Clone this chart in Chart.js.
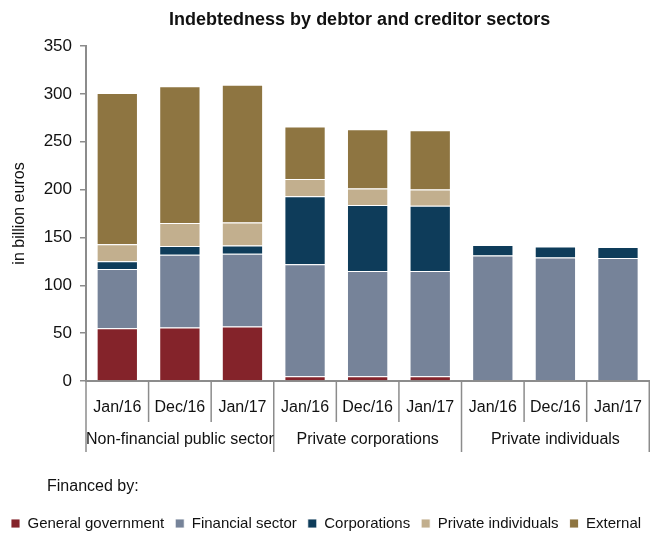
<!DOCTYPE html>
<html>
<head>
<meta charset="utf-8">
<script src="https://cdn.jsdelivr.net/npm/chart.js@4/dist/chart.umd.min.js"></script>
<style>
  body { margin: 0; background: #fff; }
</style>
</head>
<body>
<canvas id="chart" width="659" height="533"></canvas>
<script>
const dates = ['Jan/16', 'Dec/16', 'Jan/17', 'Jan/16', 'Dec/16', 'Jan/17', 'Jan/16', 'Dec/16', 'Jan/17'];
const groups = ['Non-financial public sector', 'Private corporations', 'Private individuals'];
const yTicks = [0, 50, 100, 150, 200, 250, 300, 350];

// billion euros
const generalGov   = [55, 56, 57, 5, 5, 5, null, null, null];
const financialSec = [62, 76, 76, 117, 110, 110, 131, 129, 128.5];
const corporations = [8, 9, 8.5, 71, 69, 68, 11, 11.5, 11.5];
const privateInd   = [18, 24, 24, 18, 17, 17, null, null, null];
const external     = [158, 143, 144, 55, 62, 62, null, null, null];

const FONT = '"Liberation Sans", Arial, sans-serif';
const GRAY = '#8c8c8c';

function ds(label, data, color) {
    return {
        label: label,
        data: data,
        backgroundColor: color,
        borderColor: 'rgba(255,255,255,0.85)',
        borderWidth: 1,
        barPercentage: 0.66,
        categoryPercentage: 1
    };
}

// group labels, separators, title and the "Financed by:" line
const extras = {
    id: 'extras',
    afterDraw(chart) {
        const { ctx, chartArea, scales: { x } } = chart;
        const step = x.getPixelForValue(1) - x.getPixelForValue(0);
        const bottom = chartArea.bottom;
        ctx.save();
        ctx.strokeStyle = GRAY;
        ctx.lineWidth = 1.5;
        for (let i = 0; i <= dates.length; i++) {
            const bx = x.getPixelForValue(0) - step / 2 + i * step;
            const len = i % 3 === 0 ? 71 : 41;
            ctx.beginPath();
            ctx.moveTo(bx, bottom);
            ctx.lineTo(bx, bottom + len);
            ctx.stroke();
        }
        ctx.fillStyle = '#111';
        ctx.font = '16px ' + FONT;
        ctx.textAlign = 'center';
        ctx.textBaseline = 'middle';
        groups.forEach((g, k) => {
            ctx.fillText(g, x.getPixelForValue(k * 3 + 1), bottom + 59);
        });
        ctx.font = 'bold 18px ' + FONT;
        ctx.fillText('Indebtedness by debtor and creditor sectors', (chartArea.left + chartArea.right) / 2 - 8, 20);
        ctx.font = '16px ' + FONT;
        ctx.textAlign = 'left';
        ctx.fillText('Financed by:', 47, 487);
        ctx.restore();
    }
};

new Chart(document.getElementById('chart'), {
    type: 'bar',
    data: {
        labels: dates,
        datasets: [
            ds('General government', generalGov, '#84232a'),
            ds('Financial sector', financialSec, '#768399'),
            ds('Corporations', corporations, '#0e3c5a'),
            ds('Private individuals', privateInd, '#c2af8e'),
            ds('External', external, '#8e7541')
        ]
    },
    options: {
        responsive: false,
        animation: false,
        layout: { padding: { top: 46, right: 0, left: 0, bottom: -8 } },
        plugins: {
            legend: {
                position: 'bottom',
                align: 'start',
                labels: {
                    boxWidth: 9,
                    boxHeight: 9,
                    padding: 11,
                    color: '#111',
                    font: { family: FONT, size: 15 }
                }
            },
            tooltip: { enabled: false }
        },
        scales: {
            x: {
                stacked: true,
                grid: { display: false, drawTicks: false },
                border: { color: GRAY, width: 2 },
                ticks: {
                    color: '#111',
                    padding: 17,
                    maxRotation: 0,
                    autoSkip: false,
                    font: { family: FONT, size: 16 }
                },
                afterFit(s) { s.height = 124; }
            },
            y: {
                stacked: true,
                min: 0,
                max: 350,
                afterBuildTicks(s) { s.ticks = yTicks.map(v => ({ value: v })); },
                grid: { drawOnChartArea: false, color: GRAY, tickLength: 6, lineWidth: 1.5 },
                border: { color: GRAY, width: 2 },
                ticks: {
                    color: '#111',
                    padding: 8,
                    font: { family: FONT, size: 17 }
                },
                title: {
                    display: true,
                    text: 'in billion euros',
                    color: '#111',
                    padding: { top: 10, bottom: 0 },
                    font: { family: FONT, size: 16 }
                },
                afterFit(s) { s.width = 86; }
            }
        }
    },
    plugins: [extras]
});
</script>
</body>
</html>
